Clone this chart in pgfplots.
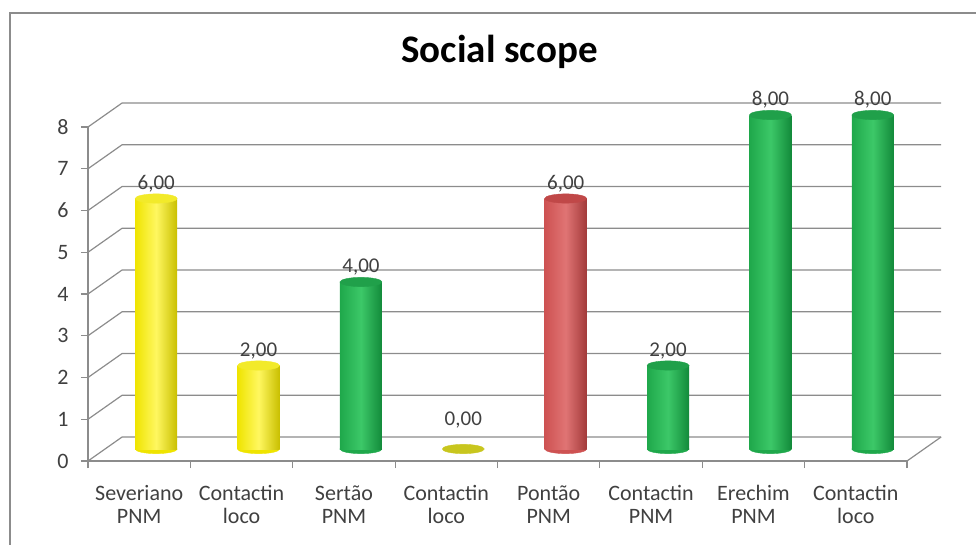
\documentclass[border=0pt]{standalone}
\usepackage{pgfplots}
\pgfplotsset{compat=1.18}
\usepackage{fontspec}
\setmainfont{Carlito}
\definecolor{gridgray}{HTML}{8C8C8C}
\definecolor{txt}{HTML}{404040}
\definecolor{yelD}{HTML}{C9BF00}
\definecolor{yelM}{HTML}{EFE400}
\definecolor{yelL}{HTML}{FFF760}
\definecolor{yelT}{HTML}{F2EA2A}
\definecolor{grnD}{HTML}{128A3A}
\definecolor{grnM}{HTML}{1FA84B}
\definecolor{grnL}{HTML}{3CC868}
\definecolor{grnT}{HTML}{20A04A}
\definecolor{redD}{HTML}{A23A3A}
\definecolor{redM}{HTML}{CE5252}
\definecolor{redL}{HTML}{E07474}
\definecolor{redT}{HTML}{C04848}
\definecolor{zeroC}{HTML}{C8C61E}
\newcommand{\cylbase}[2]{%
  \addplot[only marks, mark=*, mark size=21pt, mark options={yscale=0.22, fill=#2M, draw=#2M}] coordinates {(#1,0)};
}
\newcommand{\cyl}[3]{%
  \addplot[ybar, bar width=42pt, bar shift=0pt, draw=none, left color=#3M, right color=#3D, middle color=#3L] coordinates {(#1,#2)};
  \addplot[only marks, mark=*, mark size=21pt, mark options={yscale=0.22, fill=#3T, draw=#3T},
    point meta=y, nodes near coords={\pgfmathprintnumber[fixed,fixed zerofill,precision=2,use comma]{\pgfplotspointmeta}},
    every node near coord/.append style={anchor=south, yshift=3pt, font=\fontsize{21}{24}\selectfont, text=txt}] coordinates {(#1,#2)};
}
\pgfplotsset{cylaxis/.style={
  at={(17pt,12pt)}, anchor=south west,
  scale only axis, width=819pt, height=334pt,
  xmin=-0.5, xmax=7.5, ymin=0, ymax=8, clip=false, hide axis,
  /pgf/number format/assume math mode=true}}
\begin{document}
\begin{tikzpicture}
\useasboundingbox (-88pt,-83pt) rectangle (888pt,461pt);
\draw[gridgray, line width=1.5pt] (-78pt,-84pt) -- (-78pt,448pt) -- (889pt,448pt);
\begin{axis}[
  at={(0pt,0pt)}, anchor=south west,
  scale only axis, width=819pt, height=334pt,
  xmin=-0.5, xmax=7.5, ymin=0, ymax=8, clip=false,
  axis x line*=bottom, axis y line*=left,
  axis line style={gridgray, line width=1.2pt},
  /pgf/number format/assume math mode=true,
  ytick={0,...,8},
  xtick={0,...,7},
  xticklabels={{Severiano\\PNM},{Contactin\\loco},{Sert\~ao\\PNM},{Contactin\\loco},{Pont\~ao\\PNM},{Contactin\\PNM},{Erechim\\PNM},{Contactin\\loco}},
  minor xtick={-0.5,0.5,...,7.5},
  tick align=outside,
  major tick length=7pt, minor tick length=7pt,
  major x tick style={draw=none},
  minor x tick style={draw=gridgray, line width=1.2pt},
  ytick style={draw=gridgray, line width=1.2pt},
  xticklabel style={align=center, font=\fontsize{22}{23}\selectfont, text=txt, yshift=-14pt},
  yticklabel style={font=\fontsize{22}{24}\selectfont, text=txt, xshift=-9pt},
  title={Social scope},
  title style={font=\fontsize{39}{44}\selectfont\bfseries, at={(0.5,1)}, anchor=center, yshift=69pt, xshift=2pt},
]
\pgfplotsinvokeforeach{0,...,8}{
  \addplot[gridgray, line width=1.2pt] coordinates {(-0.5,#1) (-0.167,#1.575) (7.833,#1.575)};
}
\addplot[gridgray, line width=1.2pt] coordinates {(7.5,0) (7.833,0.575)};
\end{axis}
% cylinder bottoms (drawn first)
\begin{axis}[cylaxis]
\cylbase{0}{yel}
\cylbase{1}{yel}
\cylbase{2}{grn}
\cylbase{4}{red}
\cylbase{5}{grn}
\cylbase{6}{grn}
\cylbase{7}{grn}
\end{axis}
% cylinder bodies and tops
\begin{axis}[cylaxis]
\cyl{0}{6}{yel}
\cyl{1}{2}{yel}
\cyl{2}{4}{grn}
\addplot[only marks, mark=*, mark size=21pt, mark options={yscale=0.22, fill=zeroC, draw=zeroC},
    point meta=y, nodes near coords={\pgfmathprintnumber[fixed,fixed zerofill,precision=2,use comma]{\pgfplotspointmeta}},
    every node near coord/.append style={anchor=south, yshift=17pt, font=\fontsize{21}{24}\selectfont, text=txt}] coordinates {(3,0)};
\cyl{4}{6}{red}
\cyl{5}{2}{grn}
\cyl{6}{8}{grn}
\cyl{7}{8}{grn}
\end{axis}
\end{tikzpicture}
\end{document}
